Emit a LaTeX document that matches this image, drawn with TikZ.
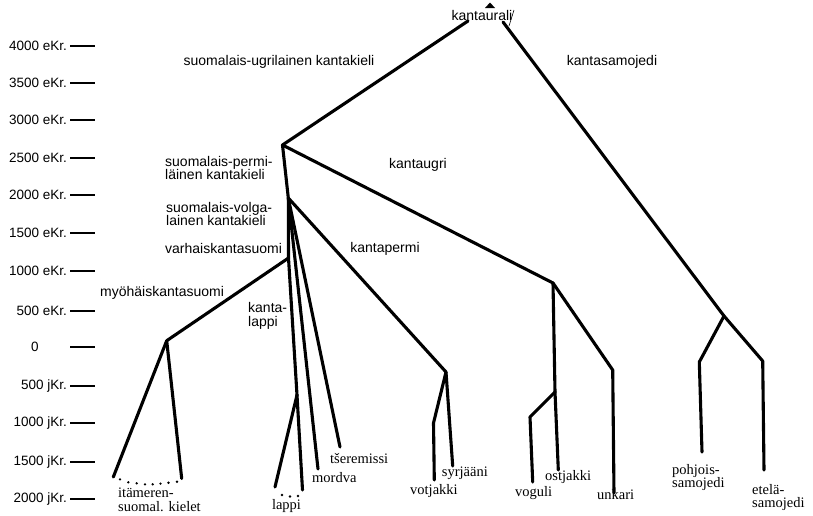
\documentclass[tikz,border=0pt]{standalone}
\usepackage{fontspec}
\setmainfont{Liberation Serif}
\setsansfont{Liberation Sans}
\begin{document}
\begin{tikzpicture}[x=1pt,y=-1pt,
  branch/.style={line width=3.1pt, line cap=round, line join=round},
  tickline/.style={line width=1.7pt},
  thinmark/.style={line width=0.6pt},
  inner/.style={font=\sffamily\fontsize{14}{13.5}\selectfont, inner sep=0pt, align=left},
  axislab/.style={font=\sffamily\fontsize{13.5}{14}\selectfont, inner sep=0pt, anchor=east},
  leaf/.style={font=\rmfamily\fontsize{14.5}{13.5}\selectfont, inner sep=0pt, align=left},
  dotmark/.style={fill=black}]
\useasboundingbox[fill=white] (0,0) rectangle (813,515);

% ---- time axis ----
\foreach \yy/\lab [count=\k] in {45.7/4000 eKr., 82.7/3500 eKr., 120/3000 eKr., 157.7/2500 eKr., 195/2000 eKr., 232.7/1500 eKr., 270.7/1000 eKr., 311/500 eKr., 386/500 jKr., 423.3/1000 jKr., 462.3/1500 jKr., 499.3/2000 jKr.} {
  \coordinate (ta\k) at (70,\yy);
  \coordinate (tb\k) at (95,\yy);
  \draw[tickline] (ta\k) -- (tb\k);
  \node[axislab] (lab\k) at (67,\yy) {\lab};
}
\coordinate (tz1) at (70,346.7);
\coordinate (tz2) at (95,346.7);
\draw[tickline] (tz1) -- (tz2);
\node[font=\sffamily\fontsize{13.5}{14}\selectfont, inner sep=0pt] (labzero) at (35,346.7) {0};

% ---- junctions and ends ----
\coordinate (Al) at (468,21);
\coordinate (Ar) at (503,22);
\coordinate (FP) at (282.5,145);
\coordinate (FV) at (288.3,198);
\coordinate (U) at (553,283);
\coordinate (S) at (724,316);
\coordinate (P) at (446,372);
\coordinate (VK) at (288.5,258);
\coordinate (F) at (166.7,340.7);
\coordinate (LJ) at (297,395);
\coordinate (Fl) at (113.3,477);
\coordinate (Fr) at (181.7,478.5);
\coordinate (Ll) at (275,487);
\coordinate (Lr) at (302.5,490);
\coordinate (Mo) at (318,469);
\coordinate (Ts) at (340,447);
\coordinate (Vb) at (433.5,423);
\coordinate (Ve) at (434.3,480);
\coordinate (Sy) at (452.7,466);
\coordinate (OU) at (555,392);
\coordinate (Os) at (558.3,470);
\coordinate (Vob) at (530,417);
\coordinate (Voe) at (532.7,482);
\coordinate (Unb) at (612.7,370);
\coordinate (Une) at (614,493);
\coordinate (Pob) at (699.3,362);
\coordinate (Poe) at (702,452);
\coordinate (Etb) at (762.7,361);
\coordinate (Ete) at (764,470);
\coordinate (M1) at (514,10);
\coordinate (M2) at (509,26);

% apex mark
\fill (485,8) -- (490,2.5) -- (495,8) -- cycle;
\draw[thinmark] (M1) -- (M2);

% ---- branches ----
\draw[branch] (Al) -- (FP);
\draw[branch] (Ar) -- (S);
\draw[branch] (FP) -- (FV);
\draw[branch] (FP) -- (U);
\draw[branch] (FV) -- (P);
\draw[branch] (FV) -- (VK);
\draw[branch] (FV) -- (Mo);
\draw[branch] (FV) -- (Ts);
\draw[branch] (VK) -- (F);
\draw[branch] (VK) -- (LJ);
\draw[branch] (F) -- (Fl);
\draw[branch] (F) -- (Fr);
\draw[branch] (LJ) -- (Ll);
\draw[branch] (LJ) -- (Lr);
\draw[branch] (P) -- (Vb) -- (Ve);
\draw[branch] (P) -- (Sy);
\draw[branch] (U) -- (OU);
\draw[branch] (OU) -- (Os);
\draw[branch] (OU) -- (Vob) -- (Voe);
\draw[branch] (U) -- (Unb) -- (Une);
\draw[branch] (S) -- (Pob) -- (Poe);
\draw[branch] (S) -- (Etb) -- (Ete);

% dotted connections
\foreach \dx/\dy in {120/479.3, 128.3/482.3, 136.7/483.3, 145/484.3, 152.7/484.3, 160.5/483.6, 168.5/482.7, 177/481.7}
  \fill[dotmark] (\dx,\dy) circle (1.3);
\foreach \dx/\dy in {282/495, 290/496.5, 298/496}
  \fill[dotmark] (\dx,\dy) circle (1.3);

% ---- internal labels ----
\node[inner] (kantaurali) at (482,15) {kantaurali};
\node[inner] (sukieli) at (279,62) {suomalais-ugrilainen kantakieli};
\node[inner] (ksam) at (612,62) {kantasamojedi};
\node[inner, anchor=west] (sperm) at (165,168) {suomalais-permi-\\läinen kantakieli};
\node[inner, anchor=west] (svolga) at (166,214) {suomalais-volga-\\lainen kantakieli};
\node[inner, anchor=west] (varh) at (165,248) {varhaiskantasuomi};
\node[inner] (kugri) at (418,165) {kantaugri};
\node[inner] (kperm) at (385,249) {kantapermi};
\node[inner, anchor=west] (myoh) at (100,293) {myöhäiskantasuomi};
\node[inner, anchor=west] (klappi) at (248,316) {kanta-\\lappi};

% ---- leaf labels ----
\node[leaf, anchor=west] (itam) at (118,500) {itämeren-\\suomal. kielet};
\node[leaf] (lappi) at (286.5,506) {lappi};
\node[leaf, anchor=west] (mordva) at (312,478) {mordva};
\node[leaf, anchor=west] (tser) at (330,459) {tšeremissi};
\node[leaf, anchor=west] (syr) at (441.7,473.3) {syrjääni};
\node[leaf, anchor=west] (vot) at (410,491) {votjakki};
\node[leaf, anchor=west] (vog) at (515,492.7) {voguli};
\node[leaf, anchor=west] (ost) at (545,476.7) {ostjakki};
\node[leaf, anchor=west] (unk) at (597,495) {unkari};
\node[leaf, anchor=west] (pohj) at (672,477.5) {pohjois-\\samojedi};
\node[leaf, anchor=west] (etela) at (752,497.5) {etelä-\\samojedi};
\end{tikzpicture}
\end{document}
